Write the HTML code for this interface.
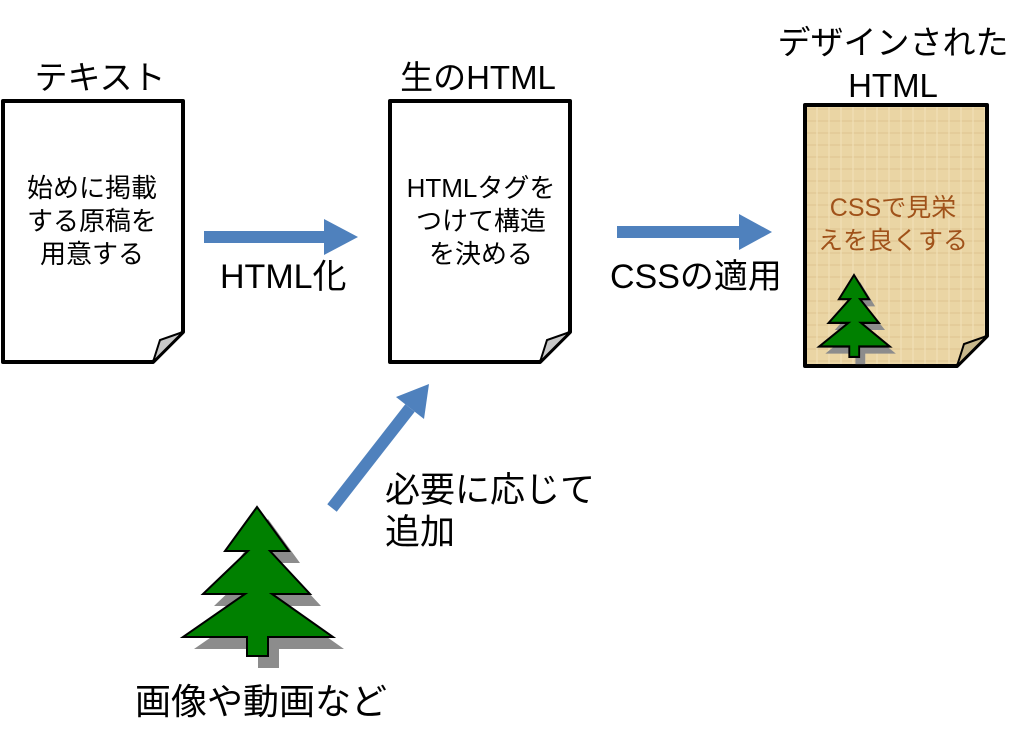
<!DOCTYPE html>
<html><head><meta charset="utf-8"><style>
body{margin:0;width:1036px;height:742px;background:#fff;overflow:hidden;font-family:"Liberation Sans","Noto Sans CJK JP",sans-serif;}
</style></head><body>
<svg width="1036" height="742" viewBox="0 0 1036 742" xmlns="http://www.w3.org/2000/svg" font-family="Liberation Sans, Noto Sans CJK JP, sans-serif">
<defs>
<pattern id="paper" width="12" height="12" patternUnits="userSpaceOnUse">
<rect width="12" height="12" fill="#ead5a4"/>
<rect width="12" height="2" fill="#e0c792" opacity="0.6"/>
<rect width="2" height="12" fill="#f0dfb6" opacity="0.6"/>
</pattern>
<g id="tree">
<polygon points="257,507 289,551 270,551 310,594 272,594 333,637 268,637 268,656 247,656 247,637 183,637 245,594 203,594 248,551 225,551"/>
</g>
</defs>
<path d="M3,101 H183 V332 L153,362 H3 Z" fill="#fff" stroke="#000" stroke-width="4" stroke-linejoin="round"/>
<path d="M153,362 L160,340 L183,332 Z" fill="#c8c8c8" stroke="#000" stroke-width="2"/>
<path d="M390,101 H570 V332 L540,362 H390 Z" fill="#fff" stroke="#000" stroke-width="4" stroke-linejoin="round"/>
<path d="M540,362 L547,340 L570,332 Z" fill="#c8c8c8" stroke="#000" stroke-width="2"/>
<path d="M805,105 H987 V336 L957,366 H805 Z" fill="url(#paper)" stroke="#000" stroke-width="4" stroke-linejoin="round"/>
<path d="M957,366 L964,344 L987,336 Z" fill="#c8b88c" stroke="#000" stroke-width="2"/>
<g transform="translate(854,275) scale(0.47,0.55) translate(-257,-507)">
<use href="#tree" transform="translate(13,13)" fill="#8c8c8c"/>
<use href="#tree" fill="#008000" stroke="#000" stroke-width="4"/>
</g>
<use href="#tree" transform="translate(11,12)" fill="#8c8c8c"/>
<use href="#tree" fill="#008000" stroke="#000" stroke-width="2"/>
<line x1="204" y1="237" x2="330" y2="237" stroke="#4f81bd" stroke-width="12"/>
<polygon points="324,219 358,237 324,255" fill="#4f81bd"/>
<line x1="617" y1="232" x2="745" y2="232" stroke="#4f81bd" stroke-width="12"/>
<polygon points="739,214 772,232 739,250" fill="#4f81bd"/>
<line x1="332" y1="508" x2="410" y2="408" stroke="#4f81bd" stroke-width="12"/>
<polygon points="396,397 429,384 424,419" fill="#4f81bd"/>
<g font-size="33" fill="#000" text-anchor="middle">
<text x="100" y="89">テキスト</text>
<text x="478" y="89">生のHTML</text>
<text x="893" y="54">デザインされた</text>
<text x="893" y="97">HTML</text>
</g>
<g font-size="34" fill="#000">
<text x="220" y="288">HTML化</text>
<text x="610" y="288">CSSの適用</text>
<text x="385" y="502" font-size="35">必要に応じて</text>
<text x="385" y="544" font-size="35">追加</text>
<text x="135" y="714" font-size="36">画像や動画など</text>
</g>
<g font-size="26" fill="#000" text-anchor="middle">
<text x="92" y="197">始めに掲載</text>
<text x="92" y="230">する原稿を</text>
<text x="92" y="263">用意する</text>
<text x="481" y="197">HTMLタグを</text>
<text x="481" y="230">つけて構造</text>
<text x="481" y="263">を決める</text>
</g>
<g font-size="25" fill="#a0521a" text-anchor="middle">
<text x="893" y="216">CSSで見栄</text>
<text x="893" y="249">えを良くする</text>
</g>
</svg>
</body></html>
